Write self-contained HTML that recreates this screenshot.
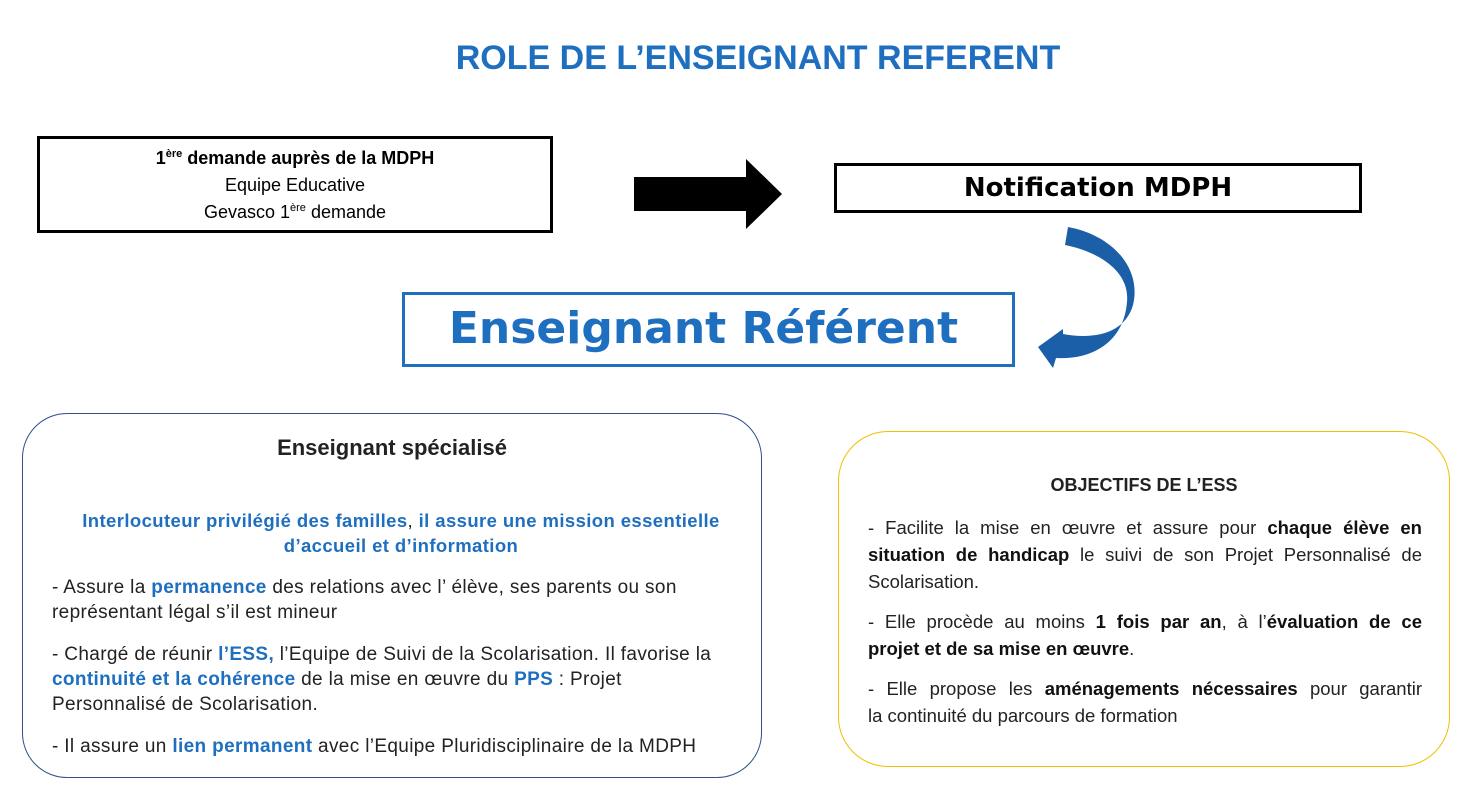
<!DOCTYPE html>
<html><head><meta charset="utf-8"><style>
body{margin:0;width:1476px;height:795px;background:#fff;position:relative;font-family:"Liberation Sans",sans-serif;overflow:hidden;color:#222}
.a{position:absolute}
.t{white-space:nowrap}
.b{color:#1f6fc0;font-weight:bold}
.k{font-weight:bold;color:#111}
sup{font-size:11px;line-height:0;vertical-align:7px}
.j{text-align:justify;text-align-last:justify;white-space:nowrap}
.r div{white-space:nowrap}
</style></head><body>
<div class="a t" style="left:0;width:1516px;top:39px;text-align:center;font-size:34px;font-weight:bold;color:#1f6fc0">ROLE DE L’ENSEIGNANT REFERENT</div>

<div class="a" style="left:37px;top:136px;width:516px;height:97px;border:3px solid #000;box-sizing:border-box;text-align:center;font-size:18px;line-height:27px;color:#000;padding-top:6px">
<b>1<sup>ère</sup> demande auprès de la MDPH</b><br>Equipe Educative<br>Gevasco 1<sup>ère</sup> demande</div>

<svg class="a" style="left:0;top:0" width="1476" height="795">
<polygon points="634,177 746,177 746,159 782,194 746,229 746,211 634,211" fill="#000"/>
<path d="M1068,227 C1112,235 1142,268 1133,305 C1125,333 1095,340 1063,334 L1063,329 L1038,347 L1053,368 L1056,358 C1095,360 1124,340 1127,302 C1130,272 1100,252 1065,245 Z" fill="#1a5fa8"/>
</svg>

<div class="a t" style="left:834px;top:163px;width:528px;height:50px;border:3px solid #000;box-sizing:border-box;text-align:center;font-family:'DejaVu Sans',sans-serif;font-weight:bold;font-size:26px;line-height:44px;color:#000">Notification MDPH</div>

<div class="a t" style="left:402px;top:292px;width:613px;height:75px;border:3px solid #1f6fc0;box-sizing:border-box;text-align:center;font-family:'DejaVu Sans',sans-serif;font-weight:bold;font-size:44px;line-height:68px;color:#1f6fc0;padding-right:10px">Enseignant Référent</div>

<div class="a" style="left:22px;top:413px;width:740px;height:365px;border:1.5px solid #2f4f8f;border-radius:45px;box-sizing:border-box"></div>
<div class="a t" style="left:22px;width:740px;top:435px;text-align:center;font-size:22px;font-weight:bold">Enseignant spécialisé</div>
<div class="a t" style="left:22px;width:758px;top:508px;text-align:center;font-size:18.5px;letter-spacing:0.4px;line-height:25px"><span class="b">Interlocuteur privilégié des familles</span>, <span class="b">il assure une mission essentielle</span><br><span class="b">d’accueil et d’information</span></div>
<div class="a t" style="left:52px;top:575px;font-size:19px;letter-spacing:0.35px;line-height:25px">
<div>- Assure la <span class="b">permanence</span> des relations avec l’ élève, ses parents ou son<br>représentant légal s’il est mineur</div>
<div style="margin-top:17px">- Chargé de réunir <span class="b">l’ESS,</span> l’Equipe de Suivi de la Scolarisation. Il favorise la<br><span class="b">continuité et la cohérence</span> de la mise en œuvre du <span class="b">PPS</span> : Projet<br>Personnalisé de Scolarisation.</div>
<div style="margin-top:17px">- Il assure un <span class="b">lien permanent</span> avec l’Equipe Pluridisciplinaire de la MDPH</div>
</div>

<div class="a" style="left:838px;top:431px;width:612px;height:336px;border:1.5px solid #f0c000;border-radius:50px;box-sizing:border-box"></div>
<div class="a t" style="left:838px;width:612px;top:475px;text-align:center;font-size:18px;font-weight:bold">OBJECTIFS DE L’ESS</div>
<div class="a r" style="left:868px;width:554px;top:514px;font-size:18.5px;line-height:27px">
<div class="j">- Facilite la mise en œuvre et assure pour <span class="k">chaque élève en</span></div>
<div class="j"><span class="k">situation de handicap</span> le suivi de son Projet Personnalisé de</div>
<div>Scolarisation.</div>
<div class="j" style="margin-top:13px">- Elle procède au moins <span class="k">1 fois par an</span>, à l’<span class="k">évaluation de ce</span></div>
<div><span class="k">projet et de sa mise en œuvre</span>.</div>
<div class="j" style="margin-top:13px">- Elle propose les <span class="k">aménagements nécessaires</span> pour garantir</div>
<div>la continuité du parcours de formation</div>
</div>
</body></html>
